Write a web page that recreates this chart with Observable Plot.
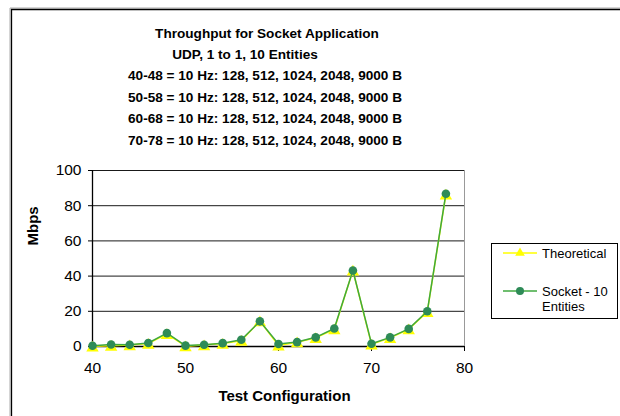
<!DOCTYPE html>
<html><head><meta charset="utf-8">
<script src="https://cdn.jsdelivr.net/npm/d3@7"></script>
<script src="https://cdn.jsdelivr.net/npm/@observablehq/plot@0.6"></script>
<style>body{margin:0;background:#fff;} svg{display:block}</style>
</head><body><div id="chart"></div>
<script>
const titleLines = [
  "Throughput for Socket Application",
  "UDP, 1 to 1, 10 Entities",
  "40-48 = 10 Hz: 128, 512, 1024, 2048, 9000 B",
  "50-58 = 10 Hz: 128, 512, 1024, 2048, 9000 B",
  "60-68 = 10 Hz: 128, 512, 1024, 2048, 9000 B",
  "70-78 = 10 Hz: 128, 512, 1024, 2048, 9000 B"
];
const config = [40,42,44,46,48,50,52,54,56,58,60,62,64,66,68,70,72,74,76,78];
const theoretical = [0.1,0.41,0.82,1.64,7.2, 0.2,0.82,1.64,3.28,14.4, 0.61,2.46,4.92,9.83,43.2, 1.23,4.92,9.83,19.7,86.4];
const socket = [0.4,1.1,1.0,2.0,7.6, 0.5,1.0,1.9,3.8,14.3, 1.4,2.5,5.2,10.2,43.2, 1.6,5.2,10.0,20.0,86.8];
const seriesNames = ["Theoretical", "Socket - 10", "Entities"];
const xTicks = [40,50,60,70,80];
const yTicks = [0,20,40,60,80,100];

const data = config.map((c,i) => ({config: c, theo: theoretical[i], socket: socket[i]}));
const FONT = "'Liberation Sans', Arial, sans-serif";
const YELLOW = "#ffff00", GREEN_LINE = "#3fa83f", GREEN_DOT = "#2e8b57";

const chart = Plot.plot({
  width: 620, height: 416,
  marginLeft: 92, marginRight: 156, marginTop: 170, marginBottom: 70,
  style: {fontFamily: FONT, fontSize: "15px", color: "#000", background: "#fff", overflow: "visible"},
  x: {domain: [40,80]},
  y: {domain: [0,100]},
  marks: [
    Plot.gridY(yTicks.filter(d => d > 0), {stroke: "#000", strokeOpacity: 0.9}),
    Plot.ruleX([80], {stroke: "#999"}),
    Plot.axisY({ticks: yTicks, tickSize: 4, tickPadding: 7, label: null, fontSize: 15.5}),
    Plot.axisX({ticks: xTicks, tickSize: 5, tickPadding: 10, label: null, fontSize: 15.5}),
    Plot.ruleY([0], {stroke: "#000", strokeWidth: 1.3}),
    Plot.ruleX([40], {stroke: "#000", strokeWidth: 1.3}),
    Plot.line(data, {x: "config", y: "theo", stroke: YELLOW, strokeWidth: 1.5}),
    Plot.dot(data, {x: "config", y: "theo", symbol: "triangle", fill: YELLOW, r: 4.6, dy: 1.5}),
    Plot.line(data, {x: "config", y: "socket", stroke: GREEN_LINE, strokeWidth: 1.5}),
    Plot.dot(data, {x: "config", y: "socket", fill: GREEN_DOT, r: 4.3}),
    Plot.text(["Mbps"], {frameAnchor: "left", dx: -59, dy: -13, rotate: -90, fontWeight: "bold", fontSize: 15, lineAnchor: "middle"}),
    Plot.text(["Test Configuration"], {frameAnchor: "bottom", dx: 6, dy: 50, fontWeight: "bold", fontSize: 15, lineAnchor: "middle"})
  ]
});
document.getElementById("chart").appendChild(chart);

const svg = d3.select(chart);
// outer border (only top and left visible in frame)
svg.append("path").attr("d", "M10,416V8H620").attr("fill", "none").attr("stroke", "#aaa").attr("stroke-width", 1);
svg.append("path").attr("d", "M11.5,416V9.5H620").attr("fill", "none").attr("stroke", "#000").attr("stroke-width", 1.3);

// title
const titleX = [267, 245, 265, 265, 265, 265];
const titleY = [33, 54, 75, 97, 118, 140];
titleLines.forEach((t, i) => {
  svg.append("text").attr("x", titleX[i]).attr("y", titleY[i]).attr("dy", "0.35em")
    .attr("text-anchor", "middle").attr("font-family", FONT).attr("font-size", 13.6)
    .attr("font-weight", "bold").attr("fill", "#000").text(t);
});

// legend
const lg = svg.append("g").attr("font-family", FONT).attr("font-size", 13).attr("text-anchor", "start");
lg.append("rect").attr("x", 491.5).attr("y", 243.5).attr("width", 126).attr("height", 75)
  .attr("fill", "#fff").attr("stroke", "#000");
lg.append("line").attr("x1", 503).attr("x2", 537).attr("y1", 253).attr("y2", 253).attr("stroke", YELLOW).attr("stroke-width", 1.5);
lg.append("path").attr("d", d3.symbol(d3.symbolTriangle, 40)()).attr("transform", "translate(520,253)").attr("fill", YELLOW);
lg.append("text").attr("x", 542).attr("y", 253).attr("dy", "0.35em").text(seriesNames[0]);
lg.append("line").attr("x1", 503).attr("x2", 537).attr("y1", 291).attr("y2", 291).attr("stroke", GREEN_LINE).attr("stroke-width", 1.5);
lg.append("circle").attr("cx", 520).attr("cy", 291).attr("r", 4).attr("fill", GREEN_DOT);
lg.append("text").attr("x", 542).attr("y", 291).attr("dy", "0.35em").text(seriesNames[1]);
lg.append("text").attr("x", 542).attr("y", 306).attr("dy", "0.35em").text(seriesNames[2]);
</script></body></html>
